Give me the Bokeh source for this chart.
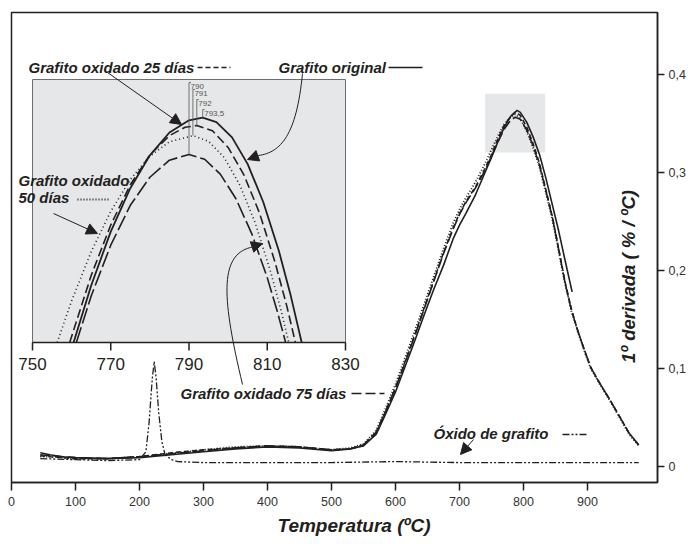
from bokeh.plotting import figure
from bokeh.models import Range1d, FixedTicker, Label, Arrow, NormalHead, Title
from bokeh.core.properties import value
from bokeh.embed import file_html
from bokeh.resources import INLINE

FONT = "Liberation Sans"
INK = "#231f20"

# ---------------- data ----------------
x_ticks = [0, 100, 200, 300, 400, 500, 600, 700, 800, 900]
y_ticks = [0.0, 0.1, 0.2, 0.3, 0.4]
y_tick_labels = ["0", "0,1", "0,2", "0,3", "0,4"]

temp_original = [45, 60, 80, 100, 150, 200, 250, 300, 350, 400, 450, 500, 530, 550, 570,
                 585, 600, 615, 630, 645, 660, 675, 690, 700, 710, 725, 740, 750, 760, 770,
                 780, 790, 795, 805, 815, 825, 835, 845, 855, 865, 876]
dtg_original = [0.014, 0.012, 0.010, 0.009, 0.008, 0.009, 0.012, 0.015, 0.018, 0.020,
                0.019, 0.016, 0.018, 0.021, 0.033, 0.054, 0.076, 0.102, 0.128, 0.155,
                0.181, 0.205, 0.232, 0.246, 0.258, 0.277, 0.300, 0.315, 0.331, 0.346,
                0.357, 0.363, 0.361, 0.351, 0.336, 0.318, 0.294, 0.267, 0.240, 0.210, 0.178]

temp_oxidado = [45, 60, 80, 100, 150, 200, 250, 300, 350, 400, 450, 500, 530, 550, 570,
                585, 600, 615, 630, 645, 660, 675, 690, 700, 710, 725, 740, 750, 760, 770,
                780, 787, 795, 805, 815, 825, 835, 845, 855, 865, 875, 885, 895, 905, 920,
                935, 950, 965, 980]
dtg_25 = [0.011, 0.010, 0.009, 0.008, 0.008, 0.010, 0.014, 0.017, 0.019, 0.021,
          0.020, 0.017, 0.018, 0.022, 0.035, 0.057, 0.080, 0.107, 0.134, 0.162,
          0.190, 0.218, 0.243, 0.258, 0.270, 0.285, 0.304, 0.318, 0.334, 0.348,
          0.357, 0.361, 0.358, 0.346, 0.329, 0.309, 0.282, 0.255, 0.222, 0.188,
          0.160, 0.138, 0.119, 0.101, 0.084, 0.068, 0.051, 0.034, 0.022]
dtg_50 = [0.010, 0.010, 0.009, 0.008, 0.008, 0.010, 0.013, 0.017, 0.020, 0.021,
          0.020, 0.017, 0.019, 0.023, 0.037, 0.060, 0.084, 0.111, 0.138, 0.166,
          0.194, 0.222, 0.248, 0.262, 0.274, 0.290, 0.309, 0.323, 0.337, 0.349,
          0.356, 0.359, 0.355, 0.342, 0.325, 0.305, 0.279, 0.252, 0.219, 0.186,
          0.158, 0.137, 0.118, 0.100, 0.083, 0.067, 0.050, 0.033, 0.021]
dtg_75 = [0.012, 0.011, 0.010, 0.009, 0.008, 0.010, 0.013, 0.016, 0.019, 0.021,
          0.020, 0.017, 0.018, 0.022, 0.035, 0.057, 0.080, 0.106, 0.133, 0.161,
          0.189, 0.217, 0.242, 0.257, 0.269, 0.284, 0.302, 0.316, 0.331, 0.344,
          0.353, 0.356, 0.354, 0.343, 0.327, 0.307, 0.281, 0.254, 0.221, 0.187,
          0.159, 0.138, 0.119, 0.101, 0.084, 0.068, 0.051, 0.034, 0.022]

temp_oxido = [45, 100, 150, 200, 210, 215, 220, 223, 226, 230, 235, 240, 250, 260, 300, 400, 500, 600, 700, 800, 900, 980]
dtg_oxido = [0.008, 0.007, 0.006, 0.007, 0.015, 0.045, 0.090, 0.107, 0.090, 0.055, 0.025, 0.012, 0.007, 0.005,
             0.004, 0.004, 0.004, 0.005, 0.004, 0.004, 0.004, 0.004]

zoom_temps = [740, 834]
zoom_values = [0.32, 0.38]

# inset (zoom of the peak)
inset_ticks = [750, 770, 790, 810, 830]
inset_temps = [750, 830]
inset_values = [0.32, 0.38]
ins_temp_original = [760.5, 765, 770, 775, 780, 785, 790, 793.5, 797, 801, 805, 809, 813, 816, 818.8]
ins_dtg_original = [0.3200, 0.3330, 0.3453, 0.3552, 0.3627, 0.3679, 0.3707, 0.3713, 0.3703, 0.3668, 0.3607,
                    0.3520, 0.3408, 0.3307, 0.3200]
ins_temp_25 = [759.5, 765, 770, 775, 780, 785, 789, 792, 796, 800, 804, 808, 812, 815, 817.2]
ins_dtg_25 = [0.3200, 0.3353, 0.3468, 0.3560, 0.3628, 0.3672, 0.3691, 0.3695, 0.3683, 0.3645, 0.3583, 0.3496,
              0.3383, 0.3283, 0.3200]
ins_temp_50 = [756.3, 760, 765, 770, 775, 780, 785, 791, 795, 799, 803, 807, 811, 813.5, 815.5]
ins_dtg_50 = [0.3200, 0.3295, 0.3407, 0.3499, 0.3572, 0.3625, 0.3658, 0.3672, 0.3659, 0.3622, 0.3559, 0.3471,
              0.3357, 0.3274, 0.3200]
ins_temp_75 = [761.2, 765, 770, 775, 780, 785, 790, 794, 798, 802, 806, 810, 812.5, 814.7]
ins_dtg_75 = [0.3200, 0.3306, 0.3422, 0.3513, 0.3577, 0.3616, 0.3629, 0.3618, 0.3584, 0.3528, 0.3449, 0.3348,
              0.3273, 0.3200]
peak_temps = [790, 791, 792, 793.5]
peak_labels = ["790", "791", "792", "793,5"]

# ---------------- layout (pixels of the picture) ----------------
W, H = 688, 544
FRAME_L, FRAME_T, FRAME_W, FRAME_H = 11, 12, 646, 470
XR = (0.0, FRAME_W / 0.64)
YR = (-(FRAME_T + FRAME_H - 466) / 981.0, (466 - FRAME_T) / 981.0)
IL, IR, IT, IB = 32, 345, 79, 342

sx = (IR - IL) / (inset_temps[1] - inset_temps[0])
sy = (IB - IT) / (inset_values[1] - inset_values[0])
ix0 = inset_temps[0] - (IL - FRAME_L) / sx
ix1 = ix0 + FRAME_W / sx
iy0 = inset_values[0] - (FRAME_T + FRAME_H - IB) / sy
iy1 = iy0 + FRAME_H / sy


def X(px):
    return XR[0] + (px - FRAME_L) * (XR[1] - XR[0]) / FRAME_W


def Y(py):
    return YR[1] - (py - FRAME_T) * (YR[1] - YR[0]) / FRAME_H


def IY(py):
    return iy1 - (py - FRAME_T) / sy


p = figure(width=W, height=H, x_range=Range1d(*XR), y_range=Range1d(*YR),
           y_axis_location="right", output_backend="svg", toolbar_location=None, title=None,
           min_border_left=FRAME_L, min_border_top=FRAME_T,
           min_border_right=W - FRAME_L - FRAME_W,
           min_border_bottom=H - FRAME_T - FRAME_H)
p.extra_x_ranges = {"ins": Range1d(ix0, ix1)}
p.extra_y_ranges = {"ins": Range1d(iy0, iy1)}
p.background_fill_color = "white"
p.border_fill_color = "white"
p.outline_line_color = INK
p.outline_line_width = 1.5
p.xgrid.visible = False
p.ygrid.visible = False

for ax in (p.xaxis[0], p.yaxis[0]):
    ax.axis_line_color = INK
    ax.axis_line_width = 1.5
    ax.major_tick_line_color = INK
    ax.major_tick_line_width = 1.5
    ax.major_tick_in = 0
    ax.minor_tick_in = 0
    ax.minor_tick_out = 0
    ax.major_label_text_font = FONT
    ax.major_label_text_font_size = "12.5px"
    ax.major_label_text_color = "#333333"
p.xaxis.ticker = FixedTicker(ticks=x_ticks)
p.xaxis.major_tick_out = 8
p.xaxis.major_label_standoff = 6
p.yaxis.ticker = FixedTicker(ticks=y_ticks)
p.yaxis.major_label_overrides = dict(zip(y_ticks, y_tick_labels))
p.yaxis.major_tick_out = 7
p.yaxis.major_label_standoff = 4

p.add_layout(Title(text="Temperatura (ºC)", align="left", offset=277 - FRAME_L, standoff=9,
                   text_font=FONT, text_font_size="19px", text_font_style="bold italic",
                   text_color=INK), "below")

# zoom region highlight
p.quad(left=[zoom_temps[0]], right=[zoom_temps[1]], bottom=[zoom_values[0]], top=[zoom_values[1]],
       fill_color="#e6e7e8", line_color=None)

# main curves
p.line(temp_oxido, dtg_oxido, line_color=INK, line_width=1.3, line_dash="7 2 2 2 2 2")
p.line(temp_oxidado, dtg_75, line_color=INK, line_width=1.6, line_dash="10 4")
p.line(temp_oxidado, dtg_50, line_color=INK, line_width=1.8, line_dash="1 2")
p.line(temp_oxidado, dtg_25, line_color=INK, line_width=1.6, line_dash="5 3")
p.line(temp_original, dtg_original, line_color=INK, line_width=1.6)

# inset
R = dict(x_range_name="ins", y_range_name="ins")
p.quad(left=[inset_temps[0]], right=[inset_temps[1]], bottom=[inset_values[0]], top=[inset_values[1]],
       fill_color="#e6e7e8", line_color="#6d6e71", line_width=1, **R)
p.line(ins_temp_50, ins_dtg_50, line_color=INK, line_width=1.6, line_dash="1 3", **R)
p.line(ins_temp_75, ins_dtg_75, line_color=INK, line_width=1.6, line_dash="16 4", **R)
p.line(ins_temp_25, ins_dtg_25, line_color=INK, line_width=1.6, line_dash="9 4", **R)
p.line(ins_temp_original, ins_dtg_original, line_color=INK, line_width=1.8, **R)
p.segment(x0=[inset_temps[0]], y0=[inset_values[0]], x1=[inset_temps[1]], y1=[inset_values[0]],
          line_color=INK, line_width=1.5, **R)
p.segment(x0=inset_ticks, y0=[inset_values[0]] * len(inset_ticks), x1=inset_ticks,
          y1=[inset_values[0] - 8 / sy] * len(inset_ticks), line_color=INK, line_width=1.5, **R)
p.text(x=inset_ticks, y=[IY(363)] * len(inset_ticks), text=[str(t) for t in inset_ticks],
       text_font=value(FONT), text_font_size="17px", text_color=INK,
       text_align="center", text_baseline="middle", **R)

peak_vals = [max(ins_dtg_75), max(ins_dtg_50), max(ins_dtg_25), max(ins_dtg_original)]
mark_top = [IY(v) for v in (82, 89, 99, 109)]
mark_txt = [IY(v) for v in (86, 93, 103, 113)]
p.segment(x0=peak_temps, y0=peak_vals, x1=peak_temps, y1=mark_top, line_color="#555555", line_width=0.8, **R)
p.segment(x0=peak_temps, y0=mark_top, x1=[t + 2 / sx for t in peak_temps], y1=mark_top,
          line_color="#555555", line_width=0.8, **R)
p.text(x=[t + 1.5 / sx for t in peak_temps], y=mark_txt, text=peak_labels, text_font=value(FONT),
       text_font_size="8px", text_color="#555555", text_align="left", text_baseline="middle", **R)


# ---------------- annotations ----------------
def lab(px, py, text, size="15px", style="bold italic", align="left", angle=0.0):
    p.add_layout(Label(x=X(px), y=Y(py), text=text, text_font=FONT, text_font_size=size,
                       text_font_style=style, text_color=INK, text_align=align,
                       text_baseline="middle", angle=angle))


def sample(px0, px1, py, dash, width=1.5):
    p.segment(x0=[X(px0)], y0=[Y(py)], x1=[X(px1)], y1=[Y(py)], line_color=INK,
              line_width=width, line_dash=dash)


def arrow(px0, py0, px1, py1, size=11):
    p.add_layout(Arrow(end=NormalHead(size=size, fill_color=INK, line_color=INK),
                       x_start=X(px0), y_start=Y(py0), x_end=X(px1), y_end=Y(py1),
                       line_color=INK, line_width=1))


lab(28, 67, "Grafito oxidado 25 días")
sample(197, 230, 67, "5 3")
lab(278, 67, "Grafito original")
sample(388, 422, 67, "solid")
lab(18, 180, "Grafito oxidado")
lab(18, 197, "50 días")
sample(77, 110, 199, "1 2", 1.8)
lab(180, 393, "Grafito oxidado 75 días")
sample(351, 384, 393, "10 4")
lab(433, 433, "Óxido de grafito")
sample(562, 588, 434, "7 2 2 2 2 2", 1.3)

lab(628, 276, "1º derivada ( % / ºC)", size="18.5px", align="center", angle=1.5707963)

arrow(107, 72, 181, 124)
arrow(53, 213, 97, 233)
arrow(473, 439, 460, 454)
p.bezier(x0=[X(302)], y0=[Y(73)], x1=[X(258)], y1=[Y(155)], cx0=[X(296)], cy0=[Y(135)],
         cx1=[X(280)], cy1=[Y(152)], line_color=INK, line_width=1)
arrow(258, 155, 247, 159)
p.bezier(x0=[X(242)], y0=[Y(384)], x1=[X(250)], y1=[Y(247)], cx0=[X(222)], cy0=[Y(300)],
         cx1=[X(218)], cy1=[Y(255)], line_color=INK, line_width=1)
arrow(250, 247, 262, 243)

open("out.html", "w").write(file_html(p, INLINE))
